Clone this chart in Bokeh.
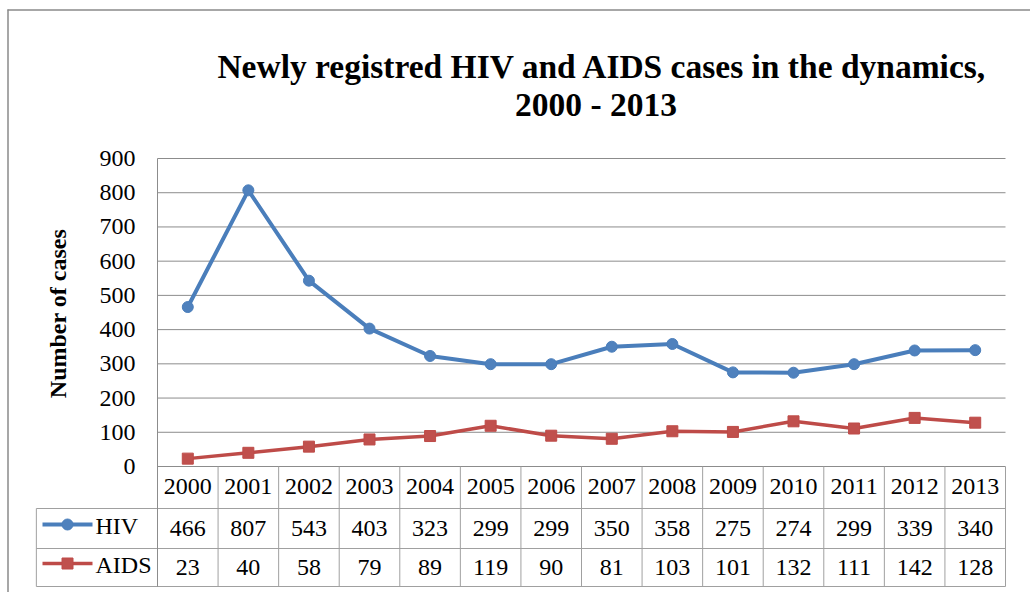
import math
from bokeh.plotting import figure
from bokeh.models import Range1d, FixedTicker, ColumnDataSource
from bokeh.core.properties import value
from bokeh.embed import file_html
from bokeh.resources import INLINE

years = ["2000", "2001", "2002", "2003", "2004", "2005", "2006",
         "2007", "2008", "2009", "2010", "2011", "2012", "2013"]
hiv = [466, 807, 543, 403, 323, 299, 299, 350, 358, 275, 274, 299, 339, 340]
aids = [23, 40, 58, 79, 89, 119, 90, 81, 103, 101, 132, 111, 142, 128]
series_names = ["HIV", "AIDS"]
y_ticks = [0, 100, 200, 300, 400, 500, 600, 700, 800, 900]
title_lines = ["Newly registred HIV and AIDS cases in the dynamics,", "2000 - 2013"]
y_label = "Number of cases"

FONT = "Liberation Serif"
BLUE_LINE = "#4a7ebb"
BLUE = "#4f81bd"
RED_LINE = "#be4b48"
RED = "#c0504d"
GRID = "#8c8c8c"
TABLE = "#a0a0a0"
FRAME = "#8a8a8a"

# ---- layout geometry (pixels on the page) ----
W, H = 1030, 592
PLOT_L, PLOT_R, PLOT_T, PLOT_B = 157, 1005, 158, 466
n = len(years)
CW = (PLOT_R - PLOT_L) / n             # width of one category column
YMAX = 900
UPP = YMAX / (PLOT_B - PLOT_T)         # value units per pixel


def xd(px):
    return (px - PLOT_L) / CW - 0.5


def yd(py):
    return (PLOT_B - py) * UPP


p = figure(width=W, height=H, output_backend="svg", toolbar_location=None,
           x_range=Range1d(xd(0), xd(W)), y_range=Range1d(yd(H), yd(0)),
           min_border=0, min_border_left=0, min_border_right=0,
           min_border_top=0, min_border_bottom=0)
p.extra_x_ranges = {"px": Range1d(0, W)}
p.extra_y_ranges = {"px": Range1d(H, 0)}
p.xaxis.visible = False
p.grid.visible = False
p.outline_line_color = None
p.background_fill_color = "white"
p.border_fill_color = "white"

# value axis drawn at the left edge of the plot area
yax = p.yaxis[0]
yax.fixed_location = -0.5
yax.bounds = (yd(586), YMAX)
yax.ticker = FixedTicker(ticks=y_ticks)
yax.major_tick_out = 0
yax.major_tick_in = 0
yax.minor_tick_out = 0
yax.minor_tick_in = 0
yax.axis_line_color = GRID
yax.major_label_text_font = FONT
yax.major_label_text_font_size = "24px"
yax.major_label_text_color = "black"
yax.major_label_standoff = 22

# horizontal gridlines at the tick values, across the plot area
p.segment(x0=[-0.5] * len(y_ticks), y0=y_ticks, x1=[n - 0.5] * len(y_ticks),
          y1=y_ticks, line_color=GRID, line_width=1)

# series
xs = list(range(n))
src = ColumnDataSource(dict(x=xs, hiv=hiv, aids=aids))
p.line("x", "hiv", source=src, line_color=BLUE_LINE, line_width=4)
p.scatter("x", "hiv", source=src, marker="circle", size=11,
          fill_color=BLUE, line_color=BLUE_LINE)
p.line("x", "aids", source=src, line_color=RED_LINE, line_width=3.5)
p.scatter("x", "aids", source=src, marker="square", size=11,
          fill_color=RED, line_color=RED_LINE)

# title
p.text(x=[602, 595.5], y=[66, 104], text=title_lines, text_font=value(FONT),
       text_font_size="33.5px", text_font_style="bold", text_color="black",
       text_align="center", text_baseline="alphabetic",
       x_range_name="px", y_range_name="px")

# axis title
p.text(x=[57], y=[313], text=[y_label], angle=math.pi / 2,
       text_font=value(FONT), text_font_size="24px", text_font_style="bold",
       text_color="black", text_align="center", text_baseline="middle",
       x_range_name="px", y_range_name="px")

# outer chart border
p.segment(x0=[7.5, 7], y0=[9, 9.5], x1=[7.5, W], y1=[H, 9.5],
          line_color=FRAME, line_width=1.5,
          x_range_name="px", y_range_name="px")

# ---- data table ----
ROW_EDGES = [466, 508, 548, 586]
ROW_MID = [486, 527.5, 566.5]
vx = [i - 0.5 for i in range(n + 1)]
p.segment(x0=vx, y0=[ROW_EDGES[0]] * len(vx), x1=vx, y1=[ROW_EDGES[3]] * len(vx),
          line_color=TABLE, line_width=1, y_range_name="px")
p.segment(x0=[-2.5], y0=[ROW_EDGES[1]], x1=[-2.5], y1=[ROW_EDGES[3]],
          line_color=TABLE, line_width=1, y_range_name="px")
p.segment(x0=[-2.5] * 3, y0=ROW_EDGES[1:], x1=[n - 0.5] * 3, y1=ROW_EDGES[1:],
          line_color=TABLE, line_width=1, y_range_name="px")

tsrc = ColumnDataSource(dict(x=xs, years=years,
                             hiv=[str(v) for v in hiv],
                             aids=[str(v) for v in aids]))
for col, row in zip(("years", "hiv", "aids"), ROW_MID):
    p.text(x="x", y=row, text=col, source=tsrc, text_font=value(FONT),
           text_font_size="24px", text_color="black",
           text_align="center", text_baseline="middle", y_range_name="px")

# legend keys inside the table
for i, (name, lc, fc, mk) in enumerate(zip(series_names, [BLUE_LINE, RED_LINE],
                                             [BLUE, RED], ["circle", "square"])):
    row = ROW_MID[i + 1] - 3.5
    p.line([xd(42), xd(92)], [row, row], line_color=lc,
           line_width=4 if i == 0 else 3.5, y_range_name="px")
    p.scatter([xd(67)], [row], marker=mk, size=11, fill_color=fc, line_color=lc,
              y_range_name="px")
    p.text(x=[xd(95)], y=[row + 1.5], text=[name], text_font=value(FONT),
           text_font_size="24px", text_color="black",
           text_align="left", text_baseline="middle", y_range_name="px")

open("out.html", "w").write(file_html(p, INLINE))
